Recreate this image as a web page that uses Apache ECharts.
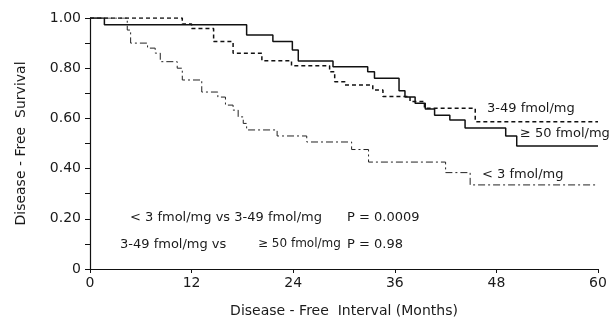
<!DOCTYPE html>
<html>
<head>
<meta charset="utf-8">
<script src="https://cdn.jsdelivr.net/npm/echarts@6/dist/echarts.min.js"></script>
<style>
  html, body { margin: 0; padding: 0; background: #fff; }
  #chart { width: 613px; height: 323px; }
</style>
</head>
<body>
<div id="chart"></div>
<script>
// Kaplan-Meier steps (months, survival)
const highTimes = [0, 1.7, 18.5, 21.6, 23.9, 24.6, 28.7, 32.8, 33.6, 36.5, 37.2, 38.4, 39.6, 40.7, 42.5, 44.3, 49.1, 50.4, 60]
const highSurv  = [1.0, 0.973, 0.932, 0.906, 0.873, 0.829, 0.806, 0.786, 0.76, 0.71, 0.685, 0.66, 0.637, 0.613, 0.594, 0.562, 0.53, 0.49, 0.49]

const midTimes = [0, 10.9, 12.0, 14.6, 16.9, 20.3, 23.8, 28.3, 28.9, 30.1, 33.4, 34.6, 37.8, 39.5, 45.5, 60]
const midSurv  = [1.0, 0.976, 0.958, 0.906, 0.86, 0.83, 0.81, 0.786, 0.746, 0.733, 0.713, 0.687, 0.667, 0.64, 0.587, 0.587]

const lowTimes = [0, 4.4, 4.8, 6.8, 7.7, 8.3, 10.3, 10.9, 13.2, 15.1, 16.0, 16.9, 17.5, 18.1, 18.5, 22.1, 25.6, 30.9, 32.9, 42.0, 44.9, 60]
const lowSurv  = [1.0, 0.952, 0.90, 0.88, 0.86, 0.826, 0.80, 0.753, 0.705, 0.685, 0.653, 0.633, 0.606, 0.58, 0.554, 0.53, 0.506, 0.476, 0.426, 0.384, 0.335, 0.335]

const xTicks = [0, 12, 24, 36, 48, 60]
const yTickLabels = { 0: '0', 0.2: '0.20', 0.4: '0.40', 0.6: '0.60', 0.8: '0.80', 1: '1.00' }

const FONT = 'DejaVu Sans'

const pairs = (t, s) => t.map((v, i) => [v, s[i]])

const chart = echarts.init(document.getElementById('chart'))

const txt = (x, y, text, size) => ({
  type: 'text',
  left: x,
  top: y,
  style: { text: text, fill: '#1a1a1a', font: `${size || 13}px "${FONT}"` }
})

const option = {
  animation: false,
  grid: { left: 90, right: 15, top: 18, bottom: 54 },
  xAxis: {
    type: 'value',
    min: 0,
    max: 60,
    interval: 12,
    name: 'Disease - Free  Interval (Months)',
    nameLocation: 'middle',
    nameGap: 35,
    nameTextStyle: { color: '#1a1a1a', fontSize: 14, fontFamily: FONT },
    axisLine: { show: true, lineStyle: { color: '#111', width: 1.2 } },
    axisTick: { show: true, inside: false, length: 4, lineStyle: { color: '#111' } },
    axisLabel: {
      color: '#1a1a1a', fontSize: 14, fontFamily: FONT, margin: 7,
      formatter: v => (xTicks.includes(v) ? String(v) : '')
    },
    splitLine: { show: false }
  },
  yAxis: {
    type: 'value',
    min: 0,
    max: 1,
    interval: 0.2,
    name: 'Disease - Free  Survival',
    nameLocation: 'middle',
    nameGap: 62,
    nameTextStyle: { color: '#1a1a1a', fontSize: 14, fontFamily: FONT },
    axisLine: { show: true, lineStyle: { color: '#111', width: 1.2 } },
    axisTick: { show: true, length: 5, lineStyle: { color: '#111' } },
    minorTick: { show: true, splitNumber: 2, length: 5, lineStyle: { color: '#111' } },
    axisLabel: {
      color: '#1a1a1a', fontSize: 14, fontFamily: FONT, margin: 9,
      formatter: v => yTickLabels[Math.round(v * 10) / 10] || ''
    },
    splitLine: { show: false }
  },
  series: [
    {
      name: '>= 50 fmol/mg',
      type: 'line',
      step: 'end',
      symbol: 'none',
      lineStyle: { color: '#111', width: 1.5, type: 'solid' },
      data: pairs(highTimes, highSurv)
    },
    {
      name: '3-49 fmol/mg',
      type: 'line',
      step: 'end',
      symbol: 'none',
      lineStyle: { color: '#111', width: 1.5, type: [4, 3] },
      data: pairs(midTimes, midSurv)
    },
    {
      name: '< 3 fmol/mg',
      type: 'line',
      step: 'end',
      symbol: 'none',
      lineStyle: { color: '#222', width: 1, type: [7, 3, 2, 3] },
      data: pairs(lowTimes, lowSurv)
    }
  ],
  graphic: [
    txt(487, 102, '3-49 fmol/mg'),
    txt(520, 127, '\u2265 50 fmol/mg'),
    txt(482, 168, '< 3 fmol/mg'),
    txt(130, 211, '< 3 fmol/mg vs 3-49 fmol/mg'),
    txt(347, 211, 'P = 0.0009'),
    txt(120, 238, '3-49 fmol/mg vs'),
    txt(258, 238, '\u2265 50 fmol/mg', 12),
    txt(347, 238, 'P = 0.98')
  ]
}

chart.setOption(option)
</script>
</body>
</html>
